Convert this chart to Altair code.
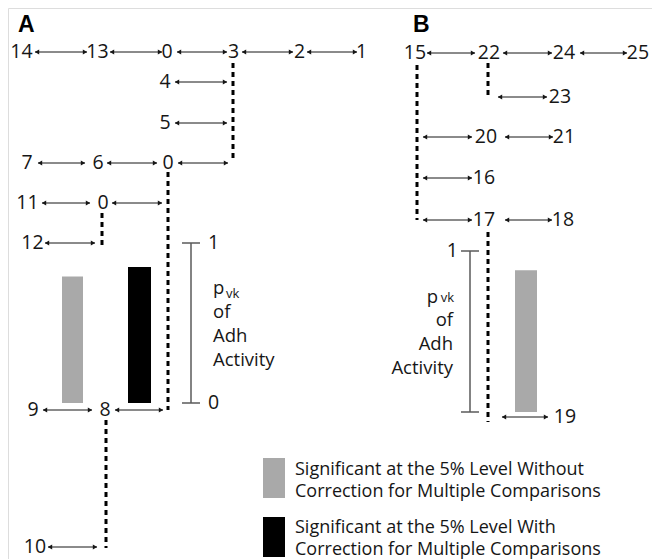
import altair as alt
import pandas as pd

FONT = "Open Sans"
FS = 19.5
FS_T = 18.5
FS_L = 18
INK = "#161616"

# ---------------- data ----------------
# node labels of the two cladograms (A: 0-14, B: 15-25)
node_labels = ["14", "13", "0", "3", "2", "1", "4", "5", "7", "6", "0", "11", "0", "12", "9", "8", "10",
               "15", "22", "24", "25", "23", "20", "21", "16", "17", "18", "19"]
node_x = [21.5, 97.5, 167, 233.5, 299.5, 361.5, 165, 165, 27, 98, 168, 27.5, 103, 32.5, 33, 105, 35,
          415, 489, 564, 638, 560, 486, 564, 484, 484, 563, 565]
node_y = [52, 52, 52, 52, 52, 52, 82, 123, 163, 163, 163, 203, 203, 243, 410, 410, 547,
          53, 53, 53, 53, 97, 137, 137, 178, 220, 220, 417]

# double-headed arrows (mutational steps)
arrow_x1 = [35, 110, 177, 242, 307, 175, 175, 38, 107, 178, 42, 112, 45, 43, 115, 48,
            427, 503, 580, 498, 423, 505, 423, 423, 505, 502]
arrow_x2 = [87, 162, 227, 293, 357, 227, 227, 85, 157, 228, 90, 162, 95, 92, 163, 97,
            475, 552, 627, 547, 472, 553, 472, 472, 552, 548]
arrow_y = [52, 52, 52, 52, 52, 82, 123, 163, 163, 163, 203, 203, 243, 410, 410, 547,
           53, 53, 53, 97, 137, 137, 178, 220, 220, 417]

# dashed nesting connectors
dash_x = [233, 168, 102, 106, 417, 488, 488]
dash_y1 = [63, 172, 213, 420, 65, 63, 232]
dash_y2 = [162, 410, 245, 548, 220, 97, 422]

# p_vk bars of Adh activity
bar_panel = ["A", "A", "B"]
bar_p = [0.79, 0.85, 0.88]
bar_kind = ["without", "with", "without"]
bar_x1 = [62, 128, 515]
bar_x2 = [83, 151, 537]

# p_vk scale bars (0 .. 1)
scale_panel = ["A", "B"]
scale_x = [191, 470]
scale_y0 = [403, 412]
scale_y1 = [243, 251]

colors = {"without": "#a9a9a9", "with": "#000000"}

legend_labels = [["Significant at the 5% Level Without", "Correction for Multiple Comparisons"],
                 ["Significant at the 5% Level With", "Correction for Multiple Comparisons"]]
legend_kind = ["without", "with"]

# ---------------- frames ----------------
xs = alt.Scale(domain=[8, 652], nice=False, zero=False)
ys = alt.Scale(domain=[8, 559], nice=False, zero=False, reverse=True)


def X(f="x"):
    return alt.X(f, type="quantitative", scale=xs, axis=None)


def Y(f="y"):
    return alt.Y(f, type="quantitative", scale=ys, axis=None)


nodes = pd.DataFrame({"label": node_labels, "x": node_x, "y": node_y})
arrows = pd.DataFrame({"x1": arrow_x1, "x2": arrow_x2, "y": arrow_y})
heads_l = pd.DataFrame({"x": [a + 2 for a in arrow_x1], "y": arrow_y})
heads_r = pd.DataFrame({"x": [a - 2 for a in arrow_x2], "y": arrow_y})
dashes = pd.DataFrame({"x": dash_x, "y1": dash_y1, "y2": dash_y2})

sc = {p: (x, y0, y1) for p, x, y0, y1 in zip(scale_panel, scale_x, scale_y0, scale_y1)}
bars = pd.DataFrame({
    "x1": bar_x1, "x2": bar_x2,
    "y1": [sc[p][1] for p in bar_panel],
    "y2": [sc[p][1] - v * (sc[p][1] - sc[p][2]) for p, v in zip(bar_panel, bar_p)],
    "kind": bar_kind,
})
bars["color"] = bars["kind"].map(colors)

scale_lines = pd.DataFrame({"x": scale_x, "y1": scale_y0, "y2": scale_y1})
ticks = pd.DataFrame({
    "x1": [x - 9 for x in scale_x] * 2, "x2": [x + 9 for x in scale_x] * 2,
    "y": scale_y0 + scale_y1,
})

# ---------------- layers ----------------
rule_arrows = alt.Chart(arrows).mark_rule(color=INK, strokeWidth=1).encode(
    x=X("x1"), x2="x2", y=Y("y"))
pts_l = alt.Chart(heads_l).mark_point(filled=True, shape="triangle-left", size=26, color=INK,
                                      opacity=1).encode(x=X(), y=Y())
pts_r = alt.Chart(heads_r).mark_point(filled=True, shape="triangle-right", size=26, color=INK,
                                      opacity=1).encode(x=X(), y=Y())

dash_layer = alt.Chart(dashes).mark_rule(color="#000000", strokeWidth=3,
                                         strokeDash=[5, 4]).encode(
    x=X(), y=Y("y1"), y2="y2")

node_text = alt.Chart(nodes).mark_text(font=FONT, fontSize=FS, color=INK,
                                       align="center", baseline="middle").encode(
    x=X(), y=Y(), text="label:N")

bar_layer = alt.Chart(bars).mark_rect().encode(
    x=X("x1"), x2="x2", y=Y("y1"), y2="y2",
    color=alt.Color("color:N", scale=None))

scale_rule = alt.Chart(scale_lines).mark_rule(color="#5a5a5a", strokeWidth=1.5).encode(
    x=X(), y=Y("y1"), y2="y2")
tick_rule = alt.Chart(ticks).mark_rule(color="#5a5a5a", strokeWidth=1.5).encode(
    x=X("x1"), x2="x2", y=Y())

# scale end labels
end_lab = pd.DataFrame({"t": ["1", "0"], "x": [208, 208], "y": [scale_y1[0], scale_y0[0]]})
end_lab_b = pd.DataFrame({"t": ["1"], "x": [458], "y": [scale_y1[1]]})
end_a = alt.Chart(end_lab).mark_text(font=FONT, fontSize=FS, color=INK, align="left",
                                     baseline="middle").encode(x=X(), y=Y(), text="t:N")
end_b = alt.Chart(end_lab_b).mark_text(font=FONT, fontSize=FS, color=INK, align="right",
                                       baseline="middle").encode(x=X(), y=Y(), text="t:N")

# axis titles "p_vk of Adh Activity"
title_words = ["of", "Adh", "Activity"]
ta = pd.DataFrame({"t": title_words, "x": [213] * 3, "y": [318, 342, 366]})
tb = pd.DataFrame({"t": title_words, "x": [453] * 3, "y": [326, 350, 374]})
title_a = alt.Chart(ta).mark_text(font=FONT, fontSize=FS_T, color=INK, align="left",
                                  baseline="alphabetic").encode(x=X(), y=Y(), text="t:N")
title_b = alt.Chart(tb).mark_text(font=FONT, fontSize=FS_T, color=INK, align="right",
                                  baseline="alphabetic").encode(x=X(), y=Y(), text="t:N")
p_main = pd.DataFrame({"t": ["p", "p"], "x": [213, 438], "y": [294, 303]})
p_sub = pd.DataFrame({"t": ["vk", "vk"], "x": [226, 454], "y": [298, 302]})
pa = alt.Chart(p_main.iloc[[0]]).mark_text(font=FONT, fontSize=FS_T, color=INK, align="left",
                                           baseline="alphabetic").encode(x=X(), y=Y(), text="t:N")
pb = alt.Chart(p_main.iloc[[1]]).mark_text(font=FONT, fontSize=FS_T, color=INK, align="right",
                                           baseline="alphabetic").encode(x=X(), y=Y(), text="t:N")
sa = alt.Chart(p_sub.iloc[[0]]).mark_text(font=FONT, fontSize=13, color=INK, align="left",
                                          baseline="alphabetic").encode(x=X(), y=Y(), text="t:N")
sb = alt.Chart(p_sub.iloc[[1]]).mark_text(font=FONT, fontSize=13, color=INK, align="right",
                                          baseline="alphabetic").encode(x=X(), y=Y(), text="t:N")

# panel letters
letters = pd.DataFrame({"t": ["A", "B"], "x": [18, 413], "y": [32, 32]})
letter_layer = alt.Chart(letters).mark_text(font="Liberation Sans", fontWeight="bold",
                                            fontSize=23, color="#000000", align="left",
                                            baseline="alphabetic").encode(
    x=X(), y=Y(), text="t:N")

# legend
leg_sq = pd.DataFrame({"x1": [263, 263], "x2": [285, 285], "y1": [458, 517], "y2": [498, 557],
                       "kind": legend_kind})
leg_sq["color"] = leg_sq["kind"].map(colors)
leg_sq_layer = alt.Chart(leg_sq).mark_rect().encode(
    x=X("x1"), x2="x2", y=Y("y1"), y2="y2", color=alt.Color("color:N", scale=None))
leg_txt = pd.DataFrame({
    "t": legend_labels[0] + legend_labels[1],
    "x": [295] * 4,
    "y": [475, 497, 533, 555],
})
leg_txt_layer = alt.Chart(leg_txt).mark_text(font=FONT, fontSize=FS_L, color=INK, align="left",
                                             baseline="alphabetic").encode(
    x=X(), y=Y(), text="t:N")

chart = alt.layer(
    bar_layer, scale_rule, tick_rule, dash_layer, rule_arrows, pts_l, pts_r, node_text,
    end_a, end_b, title_a, title_b, pa, pb, sa, sb, letter_layer, leg_sq_layer, leg_txt_layer,
).properties(
    width=644, height=551, padding=0,
    autosize=alt.AutoSizeParams(type="none"),
).configure_view(stroke=None).configure(background="white")

chart.save("out.html", embed_options={"renderer": "svg", "actions": False})
